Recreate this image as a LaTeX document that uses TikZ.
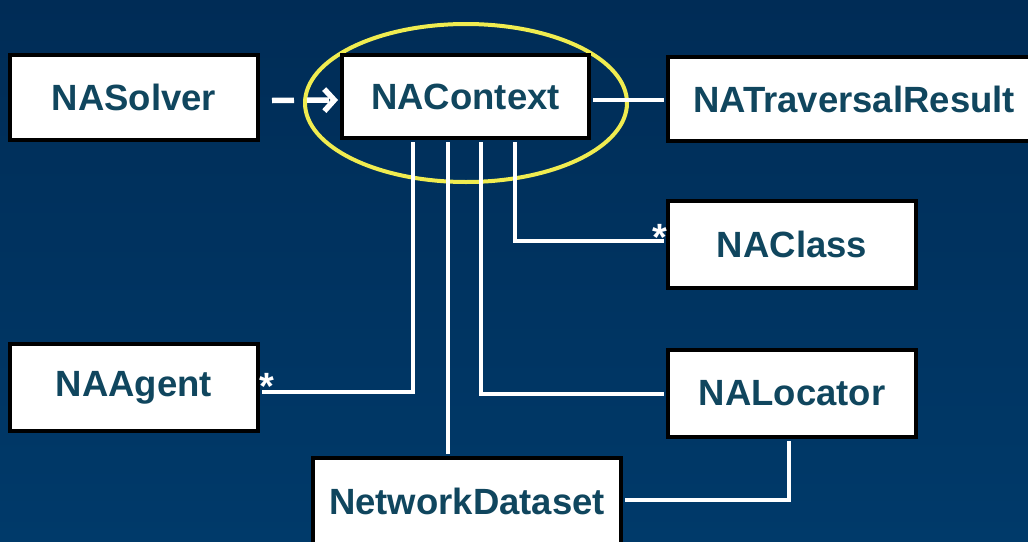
\documentclass[tikz,border=0pt]{standalone}
\usepackage{fontspec}
\setmainfont{Liberation Sans}
\usetikzlibrary{arrows.meta}
\definecolor{bgtop}{RGB}{0,44,86}
\definecolor{bgbot}{RGB}{0,58,106}
\definecolor{txtblue}{RGB}{16,70,94}
\definecolor{ringyellow}{RGB}{240,236,80}
\tikzset{
  box/.style={draw=black, line width=4pt, fill=white, text=txtblue,
    font=\fontsize{36.5}{40}\selectfont\bfseries, inner sep=0pt},
  conn/.style={draw=white, line width=4.5pt},
  star/.style={text=white, font=\fontsize{38}{38}\selectfont\bfseries, inner sep=0pt},
}
\begin{document}
\begin{tikzpicture}[x=1pt,y=-1pt]
\useasboundingbox (0,0) rectangle (1028,541);
\fill[top color=bgtop, bottom color=bgbot] (0,0) rectangle (1028,541);

\draw[ringyellow, line width=4pt] (466,103) ellipse [x radius=161pt, y radius=79pt];

\node[box, minimum width=248pt, minimum height=85pt] (solver) at (134,97.5) {NASolver};
\node[box, minimum width=247pt, minimum height=83pt] (ctx) at (465.5,96.5) {NAContext};
\node[box, minimum width=372pt, minimum height=84pt] (trav) at (854,99) {NATraversalResult};
\node[box, minimum width=248pt, minimum height=87pt] (cls) at (792,244.5) {NAClass};
\node[box, minimum width=248pt, minimum height=87pt] (agent) at (134,387.5) {NAAgent};
\node[box, minimum width=248pt, minimum height=87pt] (loc) at (792,393.5) {NALocator};
\node[box, minimum width=308pt, minimum height=86pt] (nd) at (467,501) {NetworkDataset};

% connectors
\draw[conn, line width=5.5pt, dash pattern=on 22pt off 13pt, -{Straight Barb[length=10pt,width=22pt]}]
  ([xshift=12pt,yshift=-3pt]solver.east) -- ([xshift=-2pt,yshift=-3.5pt]ctx.west);
\draw[conn] ([xshift=2pt,yshift=-3.5pt]ctx.east) -- ([xshift=-2pt,yshift=-3.5pt]ctx.east -| trav.west);
\draw[conn] ([xshift=-52.5pt,yshift=-2pt]ctx.south) |- ([xshift=2pt,yshift=-4.5pt]agent.east);
\draw[conn] ([xshift=-17.5pt,yshift=-2pt]ctx.south) -- ([xshift=-19pt,yshift=2pt]nd.north);
\draw[conn] ([xshift=15.5pt,yshift=-2pt]ctx.south) |- ([xshift=-2pt,yshift=-0.5pt]loc.west);
\draw[conn] ([xshift=49.5pt,yshift=-2pt]ctx.south) |- ([xshift=-2pt,yshift=3.5pt]cls.west);
\draw[conn] ([xshift=-3pt,yshift=-2pt]loc.south) |- ([xshift=2pt,yshift=1pt]nd.east);

\node[star] (s1) at (267,386) {*};
\node[star] (s2) at (660,237) {*};
\end{tikzpicture}
\end{document}
